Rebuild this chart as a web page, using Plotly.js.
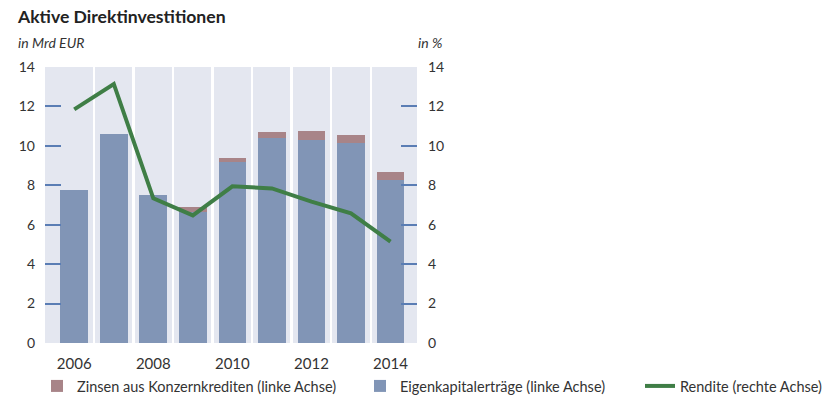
<!DOCTYPE html>
<html>
<head>
<meta charset="utf-8">
<script src="https://cdn.plot.ly/plotly-3.0.1.min.js"></script>
<style>html,body{margin:0;padding:0;background:#fff;}#chart{width:828px;height:404px;}</style>
</head>
<body>
<div id="chart"></div>
<script>
const years = [2006, 2007, 2008, 2009, 2010, 2011, 2012, 2013, 2014];
const eigenkapital = [7.75, 10.6, 7.5, 6.65, 9.2, 10.42, 10.3, 10.13, 8.25];
const zinsen = [0, 0, 0, 0.25, 0.17, 0.3, 0.45, 0.4, 0.42];
const rendite = [11.85, 13.14, 7.34, 6.47, 7.95, 7.84, 7.17, 6.58, 5.14];
const xTickLabels = ['2006', '2008', '2010', '2012', '2014'];
const yTicks = [0, 2, 4, 6, 8, 10, 12, 14];

const font = 'Lato, "Open Sans", "DejaVu Sans", sans-serif';
const textColor = '#333333';
const tickBlue = '#5a7db4';
const W = 828, H = 404;

const traces = [
  {
    type: 'bar', name: 'Eigenkapitalerträge (linke Achse)',
    x: years, y: eigenkapital, width: 0.7,
    marker: {color: '#8195b6', line: {width: 0}},
    legend: 'legend2', hoverinfo: 'x+y'
  },
  {
    type: 'bar', name: 'Zinsen aus Konzernkrediten (linke Achse)',
    x: years, y: zinsen, width: 0.7,
    marker: {color: '#a88488', line: {width: 0}},
    legend: 'legend', hoverinfo: 'x+y'
  },
  {
    type: 'scatter', mode: 'lines', name: 'Rendite (rechte Achse)',
    x: years, y: rendite, yaxis: 'y2',
    line: {color: '#3f7e46', width: 4},
    legend: 'legend3'
  }
];

const legendCommon = {
  orientation: 'h', xanchor: 'left', yanchor: 'middle',
  xref: 'container', yref: 'container',
  font: {family: font, size: 14.5, color: textColor},
  bgcolor: 'rgba(0,0,0,0)', itemclick: false
};

const legendY = 1 - 386 / H;

const layout = {
  width: W, height: H,
  margin: {l: 45, r: 411, t: 67, b: 61},
  paper_bgcolor: '#ffffff',
  plot_bgcolor: '#e4e7f0',
  barmode: 'stack',
  showlegend: true,
  font: {family: font, size: 14, color: textColor},
  title: {
    text: '<b>Aktive Direktinvestitionen</b>',
    font: {family: font, size: 17.6, color: '#222222'},
    xref: 'container', yref: 'container',
    x: 18 / W, xanchor: 'left',
    y: 1 - 17 / H, yanchor: 'middle'
  },
  xaxis: {
    range: [2005.26, 2014.67],
    automargin: false,
    tickmode: 'array',
    tickvals: xTickLabels.map(Number),
    ticktext: xTickLabels,
    ticks: '', showgrid: false, zeroline: false, showline: false,
    ticklabelstandoff: 10,
    tickfont: {family: font, size: 15, color: textColor},
    minor: {
      tickmode: 'array',
      tickvals: years.slice(1).map(v => v - 0.5),
      showgrid: true, gridcolor: '#ffffff', gridwidth: 2.5, ticks: ''
    }
  },
  yaxis: {
    range: [0, 14], tickmode: 'array', tickvals: yTicks,
    automargin: false,
    ticks: 'inside', ticklen: 16, tickwidth: 2, tickcolor: tickBlue,
    showgrid: false, zeroline: false, showline: false,
    ticklabelstandoff: 9,
    tickfont: {family: font, size: 14, color: textColor}
  },
  yaxis2: {
    range: [0, 14], tickmode: 'array', tickvals: yTicks,
    automargin: false,
    overlaying: 'y', side: 'right',
    ticks: 'inside', ticklen: 16, tickwidth: 2, tickcolor: tickBlue,
    showgrid: false, zeroline: false, showline: false,
    ticklabelstandoff: 10,
    tickfont: {family: font, size: 14, color: textColor}
  },
  legend: Object.assign({}, legendCommon, {x: 37 / W, y: legendY}),
  legend2: Object.assign({}, legendCommon, {x: 360 / W, y: legendY}),
  legend3: Object.assign({}, legendCommon, {x: 640 / W, y: legendY}),
  annotations: [
    {
      text: '<i>in Mrd EUR</i>', xref: 'paper', yref: 'paper',
      x: (16 - 45) / 372, y: 1 + (67 - 42) / 276,
      xanchor: 'left', yanchor: 'middle', showarrow: false,
      font: {family: font, size: 14, color: textColor}
    },
    {
      text: '<i>in %</i>', xref: 'paper', yref: 'paper',
      x: (416 - 45) / 372, y: 1 + (67 - 42) / 276,
      xanchor: 'left', yanchor: 'middle', showarrow: false,
      font: {family: font, size: 14, color: textColor}
    }
  ]
};

Plotly.newPlot('chart', traces, layout, {displayModeBar: false, staticPlot: true});
</script>
</body>
</html>
